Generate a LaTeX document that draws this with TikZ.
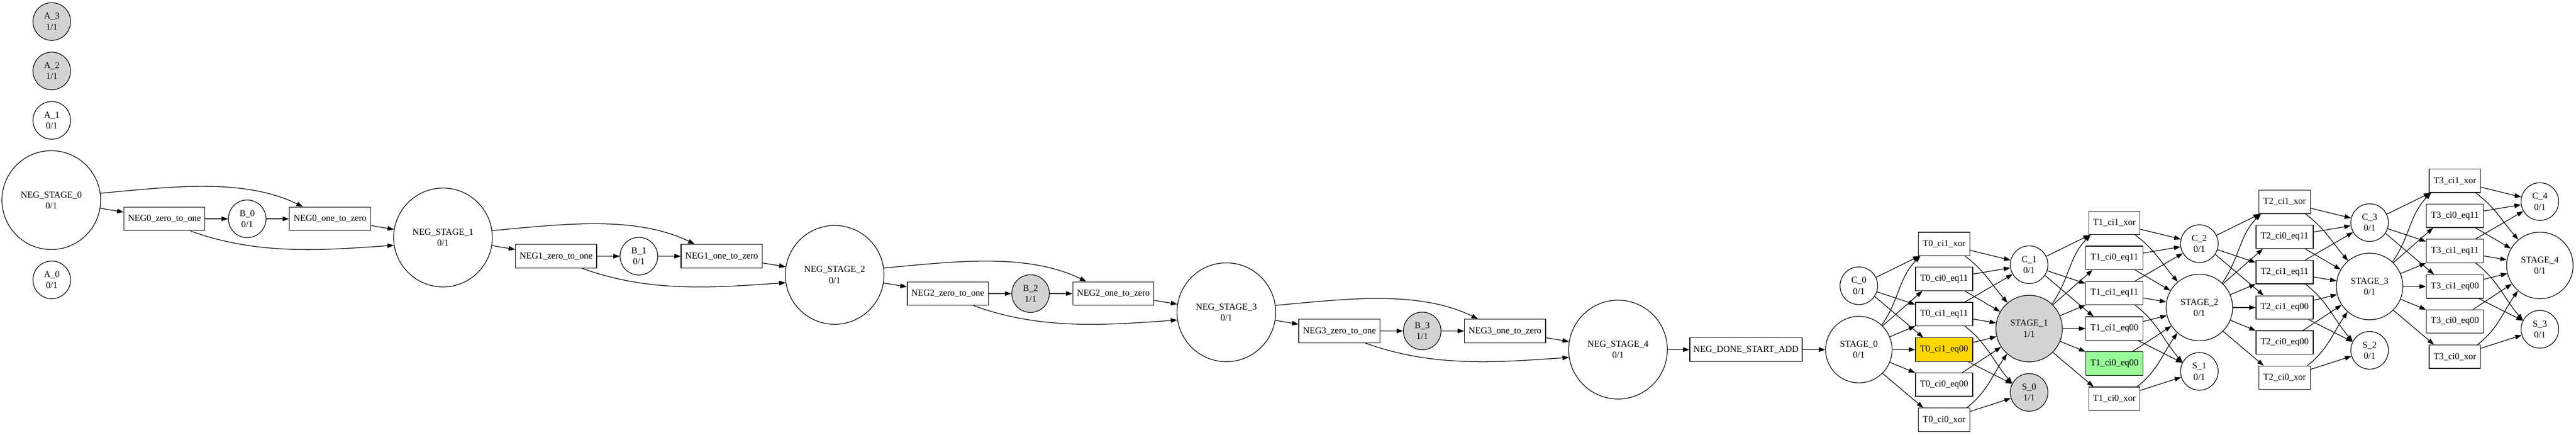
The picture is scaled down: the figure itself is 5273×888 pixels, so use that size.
\documentclass[tikz,border=0pt]{standalone}
\usepackage{fontspec}
\setmainfont{Liberation Serif}
\usetikzlibrary{arrows.meta}
\definecolor{gvgray}{HTML}{D3D3D3}
\definecolor{gvgold}{HTML}{FFD700}
\definecolor{gvgreen}{HTML}{98FB98}
\tikzset{
  gvnode/.style={draw, line width=1pt, inner sep=0pt, align=center, font=\fontsize{14}{16.8}\selectfont},
  gvsmall/.style={gvnode, circle, minimum size=57.75pt},
  gvmid/.style={gvnode, circle, minimum size=102pt},
  gvbig/.style={gvnode, circle, minimum size=151.5pt},
  gvbox/.style={gvnode, rectangle, minimum height=36pt},
  gvxor/.style={gvbox, minimum width=78.75pt},
  gveq/.style={gvbox, minimum width=87.75pt},
  gvneg/.style={gvbox, minimum width=124.5pt},
  gvedge/.style={-{Triangle[length=10pt,width=7pt]}, line width=1pt},
}
\begin{document}
\begin{tikzpicture}[x=0.75pt,y=-0.75pt]
\useasboundingbox (0,0) rectangle (5273,888);
% isolated places
\node[gvsmall, fill=gvgray] (a3) at (106,44) {A\_3\\1/1};
\node[gvsmall, fill=gvgray] (a2) at (106,145) {A\_2\\1/1};
\node[gvsmall] (a1) at (106,246) {A\_1\\0/1};
\node[gvsmall] (a0) at (106,572) {A\_0\\0/1};
% negation chain
\node[gvbig] (ns0) at (105,409) {NEG\_STAGE\_0\\0/1};
\node[gvneg] (nz0) at (336.5,447.2) {NEG0\_zero\_to\_one};
\node[gvsmall] (b0) at (506,447.2) {B\_0\\0/1};
\node[gvneg] (no0) at (675.5,447.2) {NEG0\_one\_to\_zero};
\node[gvbig] (ns1) at (906.75,485.4) {NEG\_STAGE\_1\\0/1};
\node[gvneg] (nz1) at (1138.25,523.6) {NEG1\_zero\_to\_one};
\node[gvsmall] (b1) at (1307.75,523.6) {B\_1\\0/1};
\node[gvneg] (no1) at (1477.25,523.6) {NEG1\_one\_to\_zero};
\node[gvbig] (ns2) at (1708.5,561.8) {NEG\_STAGE\_2\\0/1};
\node[gvneg] (nz2) at (1940,600) {NEG2\_zero\_to\_one};
\node[gvsmall, fill=gvgray] (b2) at (2109.5,600) {B\_2\\1/1};
\node[gvneg] (no2) at (2279,600) {NEG2\_one\_to\_zero};
\node[gvbig] (ns3) at (2510.25,638.2) {NEG\_STAGE\_3\\0/1};
\node[gvneg] (nz3) at (2741.75,676.4) {NEG3\_zero\_to\_one};
\node[gvsmall, fill=gvgray] (b3) at (2911.25,676.4) {B\_3\\1/1};
\node[gvneg] (no3) at (3080.75,676.4) {NEG3\_one\_to\_zero};
\node[gvbig] (ns4) at (3312,714.5) {NEG\_STAGE\_4\\0/1};
\node[gvbox, minimum width=172.5pt] (done) at (3574,714.5) {NEG\_DONE\_START\_ADD};
\foreach \k in {0,...,3}{
  \pgfmathtruncatemacro\nk{\k+1}
  \draw[gvedge] (ns\k) -- (nz\k);
  \draw[gvedge] (nz\k) -- (b\k);
  \draw[gvedge] (b\k) -- (no\k);
  \draw[gvedge] (no\k) -- (ns\nk);
  \draw[gvedge] (ns\k.8) to[out=5,in=154,looseness=0.85] (no\k.156);
  \draw[gvedge] (nz\k.-25) to[out=-20,in=184,looseness=0.9] (ns\nk.189);
}
% adder
\node[gvmid] (s0) at (3805,714.5) {STAGE\_0\\0/1};
\node[gvmid, fill=gvgray] (s1) at (4153.5,671.5) {STAGE\_1\\1/1};
\node[gvmid] (s2) at (4502,628.5) {STAGE\_2\\0/1};
\node[gvmid] (s3) at (4850.5,585.5) {STAGE\_3\\0/1};
\node[gvmid] (s4) at (5199,542.5) {STAGE\_4\\0/1};
\node[gvsmall] (c0) at (3805,584) {C\_0\\0/1};
\node[gvsmall] (c1) at (4153.5,541) {C\_1\\0/1};
\node[gvsmall] (c2) at (4502,498) {C\_2\\0/1};
\node[gvsmall] (c3) at (4850.5,455) {C\_3\\0/1};
\node[gvsmall] (c4) at (5199,412) {C\_4\\0/1};
\node[gvsmall, fill=gvgray] (o0) at (4153.5,802) {S\_0\\1/1};
\node[gvsmall] (o1) at (4502,759) {S\_1\\0/1};
\node[gvsmall] (o2) at (4850.5,716) {S\_2\\0/1};
\node[gvsmall] (o3) at (5199,673) {S\_3\\0/1};
\draw[gvedge] (ns4) -- (done);
\draw[gvedge] (done) -- (s0);
\foreach \k in {0,...,3}{
  \pgfmathsetmacro\tx{3979.5+348.5*\k}
  \pgfmathsetmacro\ty{714.5-43*\k}
  \ifnum\k=0 \def\fd{gvgold}\else\def\fd{white}\fi
  \ifnum\k=1 \def\fe{gvgreen}\else\def\fe{white}\fi
  \node[gvxor] (ta\k) at (\tx,\ty-216) {T\k\_ci1\_xor};
  \node[gveq] (tb\k) at (\tx,\ty-144.5) {T\k\_ci0\_eq11};
  \node[gveq] (tc\k) at (\tx,\ty-72.5) {T\k\_ci1\_eq11};
  \node[gveq, fill=\fd] (td\k) at (\tx,\ty) {T\k\_ci1\_eq00};
  \node[gveq, fill=\fe] (te\k) at (\tx,\ty+71.5) {T\k\_ci0\_eq00};
  \node[gvxor] (tf\k) at (\tx,\ty+143.5) {T\k\_ci0\_xor};
}
\foreach \k in {0,...,3}{
  \pgfmathtruncatemacro\nk{\k+1}
  \draw[gvedge] (c\k) -- (ta\k);
  \draw[gvedge] (c\k) -- (tc\k);
  \draw[gvedge] (c\k.-34) -- (td\k.150);
  \draw[gvedge] (s\k.47) to[out=55,in=225] (ta\k.207);
  \draw[gvedge] (s\k.45) -- (tb\k.209);
  \draw[gvedge] (s\k) -- (tc\k);
  \draw[gvedge] (s\k) -- (td\k);
  \draw[gvedge] (s\k) -- (te\k);
  \draw[gvedge] (s\k.-45) -- (tf\k.150);
  \draw[gvedge] (ta\k) -- (c\nk);
  \draw[gvedge] (ta\k.-30) to[out=-37,in=131] (s\nk.130);
  \draw[gvedge] (tb\k) -- (c\nk);
  \draw[gvedge] (tb\k) -- (s\nk);
  \draw[gvedge] (tc\k) -- (c\nk);
  \draw[gvedge] (tc\k) -- (s\nk);
  \draw[gvedge] (tc\k.-30) to[out=-38,in=131] (o\k.152);
  \draw[gvedge] (td\k) -- (s\nk);
  \draw[gvedge] (td\k) -- (o\k);
  \draw[gvedge] (te\k) -- (s\nk);
  \draw[gvedge] (tf\k.28) to[out=38,in=235] (s\nk.229);
  \draw[gvedge] (tf\k) -- (o\k);
}
\end{tikzpicture}
\end{document}
